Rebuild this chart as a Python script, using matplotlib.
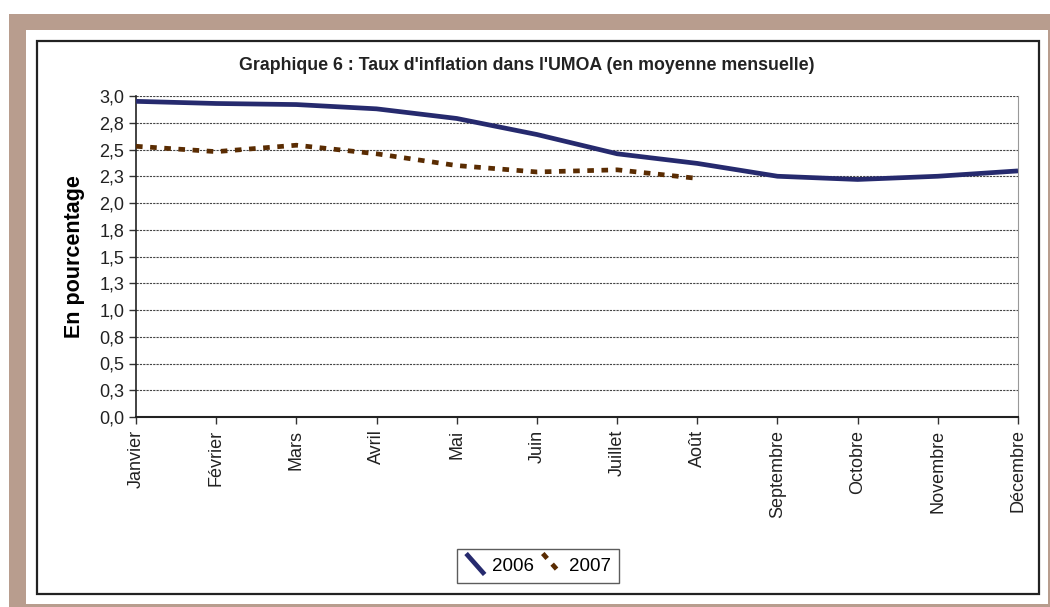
import numpy as np
import matplotlib.pyplot as plt
from matplotlib.patches import Rectangle
from matplotlib.lines import Line2D
from matplotlib.legend_handler import HandlerLine2D

months = ['Janvier', 'Février', 'Mars', 'Avril', 'Mai', 'Juin', 'Juillet',
          'Août', 'Septembre', 'Octobre', 'Novembre', 'Décembre']
taux_2006 = [2.95, 2.93, 2.92, 2.88, 2.79, 2.64, 2.46, 2.37, 2.25, 2.22, 2.25, 2.30]
taux_2007 = [2.53, 2.48, 2.54, 2.46, 2.35, 2.29, 2.31, 2.23]
yticks = [0.0, 0.25, 0.5, 0.75, 1.0, 1.25, 1.5, 1.75, 2.0, 2.25, 2.5, 2.75, 3.0]
ytick_labels = ['0,0', '0,3', '0,5', '0,8', '1,0', '1,3', '1,5', '1,8',
                '2,0', '2,3', '2,5', '2,8', '3,0']

W, H = 1050, 607
plt.rcParams['font.family'] = ['Liberation Sans', 'DejaVu Sans']


class DiagonalHandler(HandlerLine2D):
    # draws the legend key as a short diagonal stroke, like the Excel one
    def create_artists(self, legend, orig_handle, xdescent, ydescent,
                       width, height, fontsize, trans):
        x0 = -xdescent + width * 0.05
        x1 = -xdescent + width * 0.95
        y0 = -ydescent + height * 1.3
        y1 = -ydescent - height * 0.3
        line = Line2D([x0, x1], [y0, y1])
        self.update_prop(line, orig_handle, legend)
        line.set_transform(trans)
        return [line]


fig = plt.figure(figsize=(W / 100, H / 100), dpi=100)


def px_rect(x0, y0, x1, y1, **kw):
    return Rectangle((x0 / W, 1 - y1 / H), (x1 - x0) / W, (y1 - y0) / H,
                     transform=fig.transFigure, zorder=-5, **kw)


fig.patches.append(px_rect(9, 14, W, H, facecolor='#B89D8E', edgecolor='none'))
fig.patches.append(px_rect(26, 30, 1048, 604, facecolor='white', edgecolor='none'))
fig.patches.append(px_rect(37, 41, 1039, 594, facecolor='none', edgecolor='#222222', lw=1.6))

ax = fig.add_axes([136 / W, 1 - 417 / H, (1018 - 136) / W, (417 - 96) / H])
ax.set_facecolor('none')

x = np.arange(len(months))
ax.plot(x, taux_2006, color='#262A6E', lw=3.4, solid_capstyle='butt',
        label='2006', zorder=3)
ax.plot(x[:len(taux_2007)], taux_2007, color='#5A2C02', lw=3.4,
        linestyle=(0, (1.4, 1.6)), dash_capstyle='butt', label='2007', zorder=3)

ax.set_xlim(0, len(months) - 1)
ax.set_ylim(0, 3.0)
ax.set_yticks(yticks)
ax.set_yticklabels(ytick_labels, fontsize=13, color='#222222')
ax.set_xticks(x)
ax.set_xticklabels(months, rotation=90, fontsize=13, color='#222222')
ax.tick_params(axis='both', direction='out', length=5, width=1, color='#333333')
ax.tick_params(axis='x', pad=4)

ax.grid(axis='y', color='#444444', lw=0.8, linestyle=(0, (2, 1)))
ax.spines['top'].set_visible(False)
ax.spines['right'].set_color('#999999')
ax.spines['right'].set_linewidth(0.8)
ax.spines['left'].set_color('#222222')
ax.spines['bottom'].set_color('#222222')
ax.spines['left'].set_linewidth(1.2)
ax.spines['bottom'].set_linewidth(1.5)

ax.set_ylabel('En pourcentage', fontsize=15.5, fontweight='bold', labelpad=10)

fig.text(527 / W, 1 - 66 / H,
         "Graphique 6 : Taux d'inflation dans l'UMOA (en moyenne mensuelle)",
         ha='center', va='center', fontsize=12.75, fontweight='bold', color='#222222')

leg = fig.legend(loc='center', bbox_to_anchor=(538 / W, 1 - 566 / H), ncol=2,
                 fontsize=13.5, frameon=True, fancybox=False, handlelength=1.1,
                 handletextpad=0.35, columnspacing=0.4, borderpad=0.45,
                 borderaxespad=0, handler_map={Line2D: DiagonalHandler()})
leg.get_frame().set_edgecolor('#333333')
leg.get_frame().set_linewidth(1.0)

fig.savefig('out.png', dpi=100)
